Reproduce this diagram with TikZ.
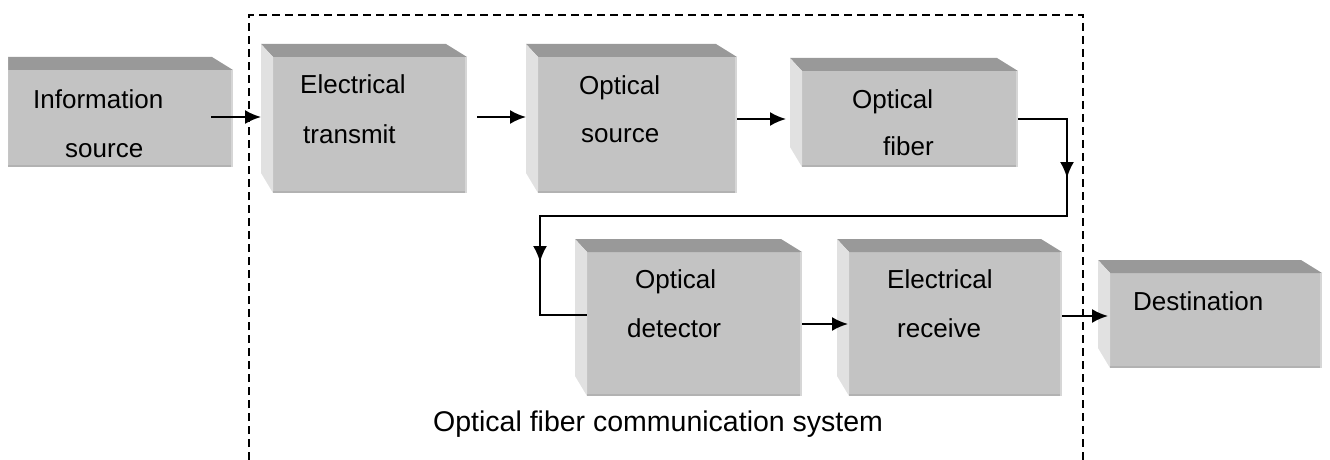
\documentclass[tikz,border=0pt]{standalone}
\usepackage{fontspec}
\setmainfont{Liberation Sans}
\usepackage{xcolor}
\usepackage{tikz}
\usetikzlibrary{arrows.meta,calc}

\definecolor{faceGray}{HTML}{C3C3C3}
\definecolor{topGray}{HTML}{999999}
\definecolor{sideGray}{HTML}{E1E1E1}
\definecolor{rimLight}{HTML}{D6D6D6}
\definecolor{rimDark}{HTML}{B2B2B2}

\tikzset{
  box/.style={fill=faceGray, inner sep=0pt, outer sep=0pt},
  txt/.style={anchor=base west, inner sep=0pt, font=\fontsize{26}{30}\selectfont},
  flow/.style={line width=2pt, -{Latex[length=16pt,width=14pt]}},
  wire/.style={line width=2pt},
  frame/.style={line width=1.5pt, dash pattern=on 8pt off 5pt}
}

% top and left faces of a block, drawn round its front face
\newcommand{\bevel}[2][12]{%
  \fill[topGray] ($(#2.north west)+(-#1,-13)$) -- ($(#2.north east)+(-21,-13)$)
     -- (#2.north east) -- (#2.north west) -- cycle;
  \fill[sideGray] ($(#2.north west)+(-#1,-13)$) -- ($(#2.south west)+(-#1,-20)$)
     -- (#2.south west) -- (#2.north west) -- cycle;
  \draw[rimLight, line width=2.5pt] ([xshift=-1.25pt]#2.north east) -- ([xshift=-1.25pt]#2.south east);
  \draw[rimDark, line width=2.5pt] ([yshift=1.25pt]#2.south west) -- ([yshift=1.25pt,xshift=-2.5pt]#2.south east);
}

\begin{document}
\begin{tikzpicture}[x=1pt, y=-1pt]
\useasboundingbox (0,0) rectangle (1330,460);

% system frame
\draw[frame] (249,460) -- (249,15) -- (1083,15) -- (1083,460);

% front faces
\node[box, minimum width=225pt, minimum height=97pt]  (info) at (120.5,118.5) {};
\node[box, minimum width=194pt, minimum height=136pt] (et)   at (370,125) {};
\node[box, minimum width=199pt, minimum height=136pt] (os)   at (637.5,125) {};
\node[box, minimum width=216pt, minimum height=96pt]  (of)   at (910,119) {};
\node[box, minimum width=215pt, minimum height=144pt] (od)   at (694.5,324) {};
\node[box, minimum width=213pt, minimum height=144pt] (er)   at (955.5,324) {};
\node[box, minimum width=212pt, minimum height=95pt]  (dest) at (1216,320.5) {};

\bevel[0]{info}
\foreach \b in {et, os, of, od, er, dest}
  { \bevel{\b} }

% labels
\node[txt] (infoA) at (33,108)  {Information};
\node[txt] (infoB) at (65,157)  {source};
\node[txt] (etA)   at (300,93)  {Electrical};
\node[txt] (etB)   at (303,143) {transmit};
\node[txt] (osA)   at (579,94)  {Optical};
\node[txt] (osB)   at (581,142) {source};
\node[txt] (ofA)   at (852,108) {Optical};
\node[txt] (ofB)   at (883,155) {fiber};
\node[txt] (odA)   at (635,288) {Optical};
\node[txt] (odB)   at (627,337) {detector};
\node[txt] (erA)   at (887,288) {Electrical};
\node[txt] (erB)   at (897,337) {receive};
\node[txt] (destA) at (1133,310) {Destination};
\node[txt, font=\fontsize{28.5}{32}\selectfont] (sys) at (433,431)
  {Optical fiber communication system};

% connectors
\draw[flow] ([xshift=-22pt,yshift=1.5pt]info.east) -- ([xshift=-12pt,yshift=8pt]et.west);
\draw[flow] ([xshift=10pt,yshift=8pt]et.east) -- ([xshift=-12pt,yshift=8pt]os.west);
\draw[flow] (os.east |- of.west) -- ([xshift=-16pt]of.west);

\coordinate (turnA) at (1067,216);
\coordinate (turnB) at (540,216);
\draw[wire] (of.east) -| (turnA) -- (turnB) |- ([yshift=9pt]od.west);
\draw[flow] (of.east) -| (1067,178);
\draw[flow] (turnB) -- (540,262);

\draw[flow] (od.east) -- ([xshift=-1pt]er.west);
\coordinate (erOut) at ([yshift=8pt]er.east);
\draw[flow] (erOut) -- ([xshift=-2pt]erOut -| dest.west);

\end{tikzpicture}
\end{document}
